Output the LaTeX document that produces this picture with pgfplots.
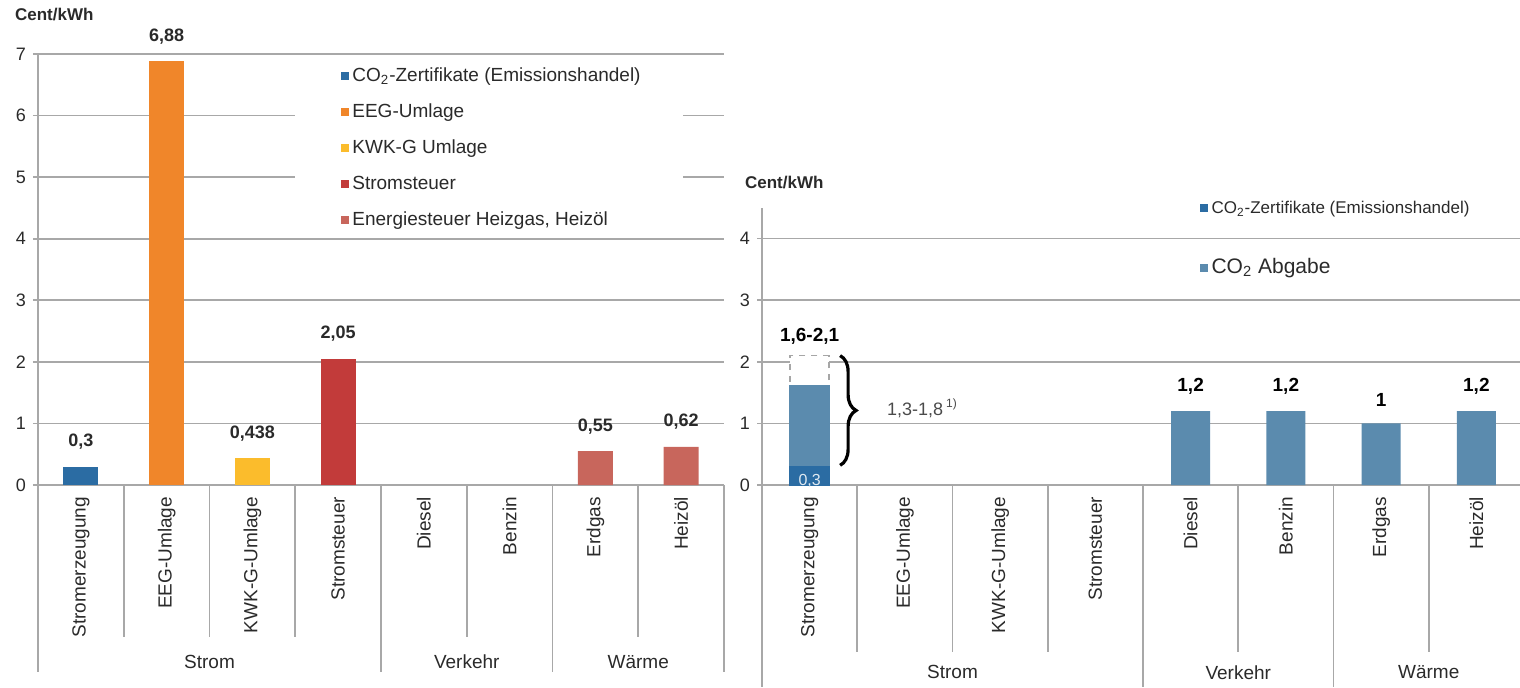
\documentclass[border=0pt]{standalone}
\usepackage{pgfplots}
\pgfplotsset{compat=1.18}
\usepackage{fontspec}
\setmainfont{Liberation Sans}
\usetikzlibrary{decorations.pathreplacing}

\definecolor{zert}{HTML}{2B6CA3}
\definecolor{eeg}{HTML}{F0862A}
\definecolor{kwk}{HTML}{FBBC2C}
\definecolor{steuer}{HTML}{C23B3A}
\definecolor{energie}{HTML}{C8665C}
\definecolor{abgabe}{HTML}{5B8BAE}
\definecolor{gridc}{HTML}{A8A8A8}
\definecolor{txt}{HTML}{2A2A2A}

\pgfplotsset{
  catbars/.style={
    scale only axis, clip=false,
    ybar, bar shift=0pt,
    xmin=-0.5, xmax=7.5, ymin=0,
    xtick={0,...,7},
    xticklabels={Stromerzeugung,EEG-Umlage,KWK-G-Umlage,Stromsteuer,Diesel,Benzin,Erdgas,Heizöl},
    x tick label style={rotate=90, anchor=east, font=\fontsize{9.5}{11}\selectfont, text=txt},
    xtick style={draw=none},
    y tick label style={font=\fontsize{9}{11}\selectfont, text=txt},
    ymajorgrids, grid style={gridc, line width=0.8pt},
    axis x line*=bottom, axis y line*=left,
    axis line style={-, gridc, line width=0.8pt},
    ytick style={gridc, line width=0.8pt},
    tick align=outside, major tick length=2.5pt,
    /pgf/number format/assume math mode=true,
    /pgf/number format/use comma,
    /pgf/number format/precision=3,
    legend image code/.code={\fill[##1] (0pt,-2pt) rectangle (4pt,2pt);},
    legend cell align=left,
  },
}

\begin{document}
\begin{tikzpicture}
\useasboundingbox (0,0) rectangle (760pt,343.5pt);

% ---------- left chart ----------
\node[anchor=west, font=\bfseries\fontsize{8.5}{10}\selectfont, text=txt] at (4pt,336pt) {Cent/kWh};
\begin{axis}[catbars,
  at={(19pt,101pt)}, anchor=south west, width=343pt, height=215.5pt,
  ymax=7, ytick={0,...,7}, bar width=17.5pt,
  nodes near coords,
  every node near coord/.append style={font=\bfseries\fontsize{9}{10}\selectfont, text=txt, yshift=5pt},
  legend style={at={(axis description cs:0.4417,0.9745)}, anchor=north west,
    draw=none, fill=none, inner sep=0pt, row sep=7pt,
    font=\fontsize{9.5}{11}\selectfont, text=txt,
    nodes={inner xsep=1.5pt, inner ysep=1pt, text height=7pt, text depth=2pt}},
]
\fill[white] (axis cs:2.5,4.12) rectangle (axis cs:7.02,6.9);
\addplot[fill=zert, draw=none] coordinates {(0,0.3)};
\addlegendentry{CO\textsubscript{2}-Zertifikate (Emissionshandel)}
\addplot[fill=eeg, draw=none] coordinates {(1,6.88)};
\addlegendentry{EEG-Umlage}
\addplot[fill=kwk, draw=none] coordinates {(2,0.438)};
\addlegendentry{KWK-G Umlage}
\addplot[fill=steuer, draw=none] coordinates {(3,2.05)};
\addlegendentry{Stromsteuer}
\addplot[fill=energie, draw=none] coordinates {(6,0.55) (7,0.62)};
\addlegendentry{Energiesteuer Heizgas, Heizöl}
\pgfplotsinvokeforeach{0.5,1.5,2.5,4.5,6.5}{
  \draw[gridc, line width=0.8pt] (axis cs:#1,0) -- (axis cs:#1,-2.47);
}
\pgfplotsinvokeforeach{-0.5,3.5,5.5,7.5}{
  \draw[gridc, line width=0.8pt] (axis cs:#1,0) -- (axis cs:#1,-3.04);
}
\node[font=\fontsize{9.5}{11}\selectfont, text=txt] at (axis cs:1.5,-2.87) {Strom};
\node[font=\fontsize{9.5}{11}\selectfont, text=txt] at (axis cs:4.5,-2.87) {Verkehr};
\node[font=\fontsize{9.5}{11}\selectfont, text=txt] at (axis cs:6.5,-2.87) {Wärme};
\end{axis}

% ---------- right chart ----------
\node[anchor=west, font=\bfseries\fontsize{8.5}{10}\selectfont, text=txt] at (369pt,252pt) {Cent/kWh};
\begin{axis}[catbars,
  at={(381pt,101pt)}, anchor=south west, width=381pt, height=138.6pt,
  ymax=4.5, ytick={0,...,4}, bar width=19.5pt,
  legend style={at={(axis description cs:0.5737,1.039)}, anchor=north west,
    draw=none, fill=none, inner sep=0pt, row sep=19pt, text=txt,
    nodes={inner xsep=2pt, inner ysep=1pt, text height=7pt, text depth=2pt}},
]
\addlegendimage{fill=zert, draw=none}
\addlegendentry{\fontsize{8.5}{10}\selectfont CO\textsubscript{2}-Zertifikate (Emissionshandel)}
\addlegendimage{fill=abgabe, draw=none}
\addlegendentry{\fontsize{10.5}{12}\selectfont CO\textsubscript{2} Abgabe}
% range 1,6-2,1 (dashed upper part)
\addplot[fill=white, draw=gray!70, dashed, line width=0.8pt, forget plot,
  nodes near coords={1,6-2,1},
  every node near coord/.append style={font=\bfseries\fontsize{9.5}{11}\selectfont, text=black, yshift=2pt}]
  coordinates {(0,2.1)};
\addplot[fill=abgabe, draw=abgabe, line width=1pt, forget plot] coordinates {(0,1.6)};
\addplot[fill=abgabe, draw=none, forget plot,
  nodes near coords,
  every node near coord/.append style={font=\bfseries\fontsize{9.5}{11}\selectfont, text=black, yshift=5pt}]
  coordinates {(4,1.2) (5,1.2) (6,1.0) (7,1.2)};
\addplot[fill=zert, draw=zert, line width=1pt, forget plot,
  nodes near coords,
  every node near coord/.append style={anchor=north, font=\fontsize{8}{9}\selectfont, text=white!85!zert}]
  coordinates {(0,0.3)};
\draw[decorate, decoration={brace, amplitude=8pt}, line width=1.6pt]
  (axis cs:0.32,2.1) -- (axis cs:0.32,0.32);
\node[anchor=west, font=\fontsize{9}{11}\selectfont, text=txt!85] at (axis cs:0.74,1.25) {1,3-1,8\,\textsuperscript{1)}};
\pgfplotsinvokeforeach{0.5,1.5,2.5,4.5,6.5}{
  \draw[gridc, line width=0.8pt] (axis cs:#1,0) -- (axis cs:#1,-2.71);
}
\pgfplotsinvokeforeach{-0.5,3.5,5.5,7.5}{
  \draw[gridc, line width=0.8pt] (axis cs:#1,0) -- (axis cs:#1,-3.28);
}
\node[font=\fontsize{9.5}{11}\selectfont, text=txt] at (axis cs:1.5,-3.04) {Strom};
\node[font=\fontsize{9.5}{11}\selectfont, text=txt] at (axis cs:4.5,-3.04) {Verkehr};
\node[font=\fontsize{9.5}{11}\selectfont, text=txt] at (axis cs:6.5,-3.04) {Wärme};
\end{axis}
\end{tikzpicture}
\end{document}
